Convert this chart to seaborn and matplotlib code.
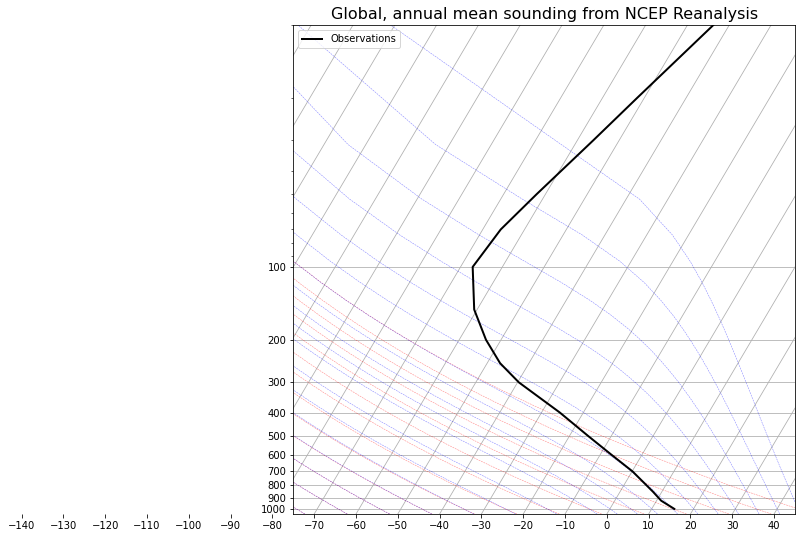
#!/usr/bin/env python3
"""
Skew-T plot of the global, annual mean NCEP sounding.
"""

import numpy as np
import pandas as pd
import matplotlib
matplotlib.use('Agg')  # Non-interactive backend
import matplotlib.pyplot as plt
from matplotlib import ticker
from matplotlib.collections import LineCollection
import seaborn as sns


# -- Sounding ----------------------------------------------------------
levels = [1000, 925, 850, 700, 600, 500, 400, 300, 250, 200,
          150, 100, 70, 50, 30, 20, 10]
temps = [15.4, 11.1, 7.9, 0.1, -7.1, -15.5, -25.6, -39.7, -46.9, -53.6,
         -60.7, -67.1, -65.7, -62.1, -56.2, -51.7, -43.8]

# starting temperatures (degC at 1000 hPa) of the reference lines
dry_t0 = [-75, -65, -55, -45, -35, -25, -15, -5, 5, 15, 25, 35, 45]
moist_t0 = [-75, -65, -55, -45, -35, -25, -15, -5,
            0, 5, 10, 15, 20, 25, 30, 35, 40, 45]
isotherms = list(range(-140, 41, 10))
inside_xticks = list(range(-70, 41, 10))
outside_xticks = list(range(-140, -79, 10))
pressure_ticks = [100, 200, 300, 400, 500, 600, 700, 800, 900, 1000]

ROTATION = 30
XMIN, XMAX = -75, 45
P_BOT, P_TOP = 1050, 10

# thermodynamic constants
RD = 287.04749
CP = 1005.7
LV = 2.501e6
EPS = 0.62196
KAPPA = RD / CP


def skew_x(t, p):
    """Skewed x position of temperature t at pressure p."""
    frac = np.log(P_BOT / np.asarray(p, float)) / np.log(P_BOT / P_TOP)
    return np.asarray(t, float) + np.tan(np.radians(ROTATION)) * (XMAX - XMIN) * frac


def dtdp(p, t):
    es = 6.112 * np.exp(17.67 * (t - 273.15) / (t - 29.65))
    rs = EPS * es / (p - es)
    frac = (RD * t + LV * rs) / (CP + LV * LV * rs * EPS / (RD * t * t))
    return frac / p


def moist_lapse(pressure, t0, p0=1000.):
    """Integrate the saturated lapse rate from p0 to every pressure."""
    t0k = np.asarray(t0, float) + 273.15
    out = np.empty((len(t0k), len(pressure)))
    for targets in (sorted([p for p in pressure if p <= p0], reverse=True),
                    sorted([p for p in pressure if p > p0])):
        cur_p, cur_t = p0, t0k.copy()
        for tp in targets:
            n = max(int(abs(tp - cur_p)), 1)
            h = (tp - cur_p) / n
            for i in range(n):
                pp = cur_p + i * h
                k1 = dtdp(pp, cur_t)
                k2 = dtdp(pp + h / 2, cur_t + h / 2 * k1)
                k3 = dtdp(pp + h / 2, cur_t + h / 2 * k2)
                k4 = dtdp(pp + h, cur_t + h * k3)
                cur_t = cur_t + h / 6 * (k1 + 2 * k2 + 2 * k3 + k4)
            cur_p = tp
            out[:, list(pressure).index(tp)] = cur_t
    return out - 273.15


# -- Figure ---------------------------------------------------------------
W, H, DPI = 802, 538, 72
left_px, right_px, top_px, bot_px = 293.3, 795.0, 25.0, 514.0

fig = plt.figure(figsize=(W / DPI, H / DPI), dpi=DPI)
ax = fig.add_axes([left_px / W, (H - bot_px) / H,
                   (right_px - left_px) / W, (bot_px - top_px) / H])

ax.set_yscale('log')
ax.set_ylim(P_BOT, P_TOP)
ax.set_xlim(XMIN, XMAX)

pressure = np.linspace(P_BOT, P_TOP, 50)

# isotherms are the skewed x grid
for t in isotherms:
    ax.plot(skew_x([t, t], [P_BOT, P_TOP]), [P_BOT, P_TOP],
            color='#b0b0b0', linewidth=0.8, zorder=1.5)
ax.yaxis.grid(True, color='#b0b0b0', linewidth=0.8)
ax.set_axisbelow('line')

# dry adiabats
t_dry = (np.array(dry_t0)[:, None] + 273.15) * (pressure / 1000.) ** KAPPA - 273.15
ax.add_collection(LineCollection(
    [np.column_stack((skew_x(ti, pressure), pressure)) for ti in t_dry],
    colors='r', linestyles='dashed', alpha=0.5, linewidths=0.5))

# moist adiabats
t_moist = moist_lapse(pressure, moist_t0)
ax.add_collection(LineCollection(
    [np.column_stack((skew_x(ti, pressure), pressure)) for ti in t_moist],
    colors='b', linestyles='dashed', alpha=0.5, linewidths=0.5))

# observed sounding
df = pd.DataFrame({'level': levels, 'temperature': temps})
df['x'] = skew_x(df['temperature'], df['level'])
sns.lineplot(data=df, x='x', y='level', sort=False, estimator=None,
             color='black', linewidth=2, label='Observations', ax=ax)

ax.set_xlim(XMIN, XMAX)
ax.set_ylim(P_BOT, P_TOP)
ax.set_xlabel('')
ax.set_ylabel('')
ax.set_xticks(inside_xticks)
ax.yaxis.set_major_locator(ticker.FixedLocator(pressure_ticks))
ax.yaxis.set_major_formatter(ticker.ScalarFormatter())
ax.yaxis.set_minor_locator(ticker.LogLocator(base=10, subs=np.arange(1, 10)))
ax.yaxis.set_minor_formatter(ticker.NullFormatter())

ax.legend(loc='upper left')
ax.set_title('Global, annual mean sounding from NCEP Reanalysis', fontsize=16)

# tick labels that spill past the left edge of the skewed axes
ppd = (right_px - left_px) / (XMAX - XMIN)
ext = fig.add_axes([0, (H - bot_px) / H, left_px / W, 1e-4])
ext.set_xlim(XMIN - left_px / ppd, XMIN)
ext.set_xticks(outside_xticks)
ext.set_yticks([])
ext.patch.set_visible(False)
for s in ext.spines.values():
    s.set_visible(False)

fig.savefig('out.png', dpi=DPI)
plt.close(fig)
print("Saved: out.png")
